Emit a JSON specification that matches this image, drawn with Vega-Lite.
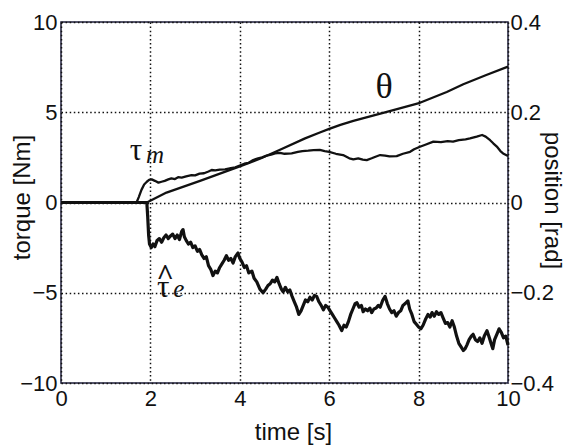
{
  "$schema": "https://vega.github.io/schema/vega-lite/v6.json",
  "width": 447,
  "height": 361,
  "autosize": {"type": "none"},
  "padding": {"left": 61, "top": 22, "right": 57, "bottom": 62},
  "background": "white",
  "config": {
    "view": {"stroke": "#1c1c3a", "strokeWidth": 1.5},
    "font": "Liberation Sans",
    "axis": {
      "labelFont": "Liberation Sans",
      "titleFont": "Liberation Sans",
      "labelColor": "#111",
      "titleColor": "#111",
      "labelFontSize": 22,
      "titleFontSize": 24,
      "titleFontWeight": "normal",
      "ticks": false,
      "domain": false,
      "labelFlush": false,
      "labelOverlap": false,
      "gridColor": "#111",
      "gridOpacity": 1,
      "gridWidth": 1.5,
      "gridDash": [1.5, 2.6]
    }
  },
  "datasets": {
    "te": [
      {"t": 0, "v": 0}, {"t": 1.92, "v": 0}, {"t": 1.94, "v": -0.8}, {"t": 1.96, "v": -1.8}, {"t": 1.98, "v": -2.3},
      {"t": 2.02, "v": -2.5}, {"t": 2.06, "v": -2.3}, {"t": 2.1, "v": -2.45}, {"t": 2.15, "v": -2.1}, {"t": 2.2, "v": -2.0},
      {"t": 2.25, "v": -2.2}, {"t": 2.3, "v": -1.95}, {"t": 2.35, "v": -1.8}, {"t": 2.4, "v": -2.0}, {"t": 2.45, "v": -1.85},
      {"t": 2.5, "v": -1.75}, {"t": 2.55, "v": -2.0}, {"t": 2.6, "v": -1.8}, {"t": 2.65, "v": -2.05}, {"t": 2.7, "v": -1.6},
      {"t": 2.73, "v": -1.5}, {"t": 2.76, "v": -1.9}, {"t": 2.8, "v": -2.1}, {"t": 2.85, "v": -2.3}, {"t": 2.9, "v": -2.2},
      {"t": 2.95, "v": -2.5}, {"t": 3.0, "v": -2.4}, {"t": 3.05, "v": -2.7}, {"t": 3.1, "v": -2.6}, {"t": 3.15, "v": -2.9},
      {"t": 3.2, "v": -3.1}, {"t": 3.25, "v": -3.0}, {"t": 3.3, "v": -3.5}, {"t": 3.35, "v": -3.7}, {"t": 3.4, "v": -4.05},
      {"t": 3.45, "v": -3.8}, {"t": 3.5, "v": -3.9}, {"t": 3.55, "v": -3.6}, {"t": 3.6, "v": -3.4}, {"t": 3.65, "v": -3.2},
      {"t": 3.7, "v": -2.95}, {"t": 3.75, "v": -3.2}, {"t": 3.8, "v": -3.1}, {"t": 3.85, "v": -3.35}, {"t": 3.9, "v": -3.0},
      {"t": 3.96, "v": -2.8}, {"t": 4.0, "v": -3.1}, {"t": 4.05, "v": -3.3}, {"t": 4.1, "v": -3.6}, {"t": 4.15, "v": -3.5},
      {"t": 4.2, "v": -3.9}, {"t": 4.27, "v": -3.8}, {"t": 4.32, "v": -4.2}, {"t": 4.38, "v": -4.4}, {"t": 4.45, "v": -4.8},
      {"t": 4.52, "v": -5.0}, {"t": 4.58, "v": -4.8}, {"t": 4.63, "v": -4.6}, {"t": 4.68, "v": -4.5}, {"t": 4.73, "v": -4.3},
      {"t": 4.78, "v": -4.4}, {"t": 4.83, "v": -4.15}, {"t": 4.88, "v": -4.5}, {"t": 4.93, "v": -4.8}, {"t": 4.97, "v": -4.95},
      {"t": 5.02, "v": -4.7}, {"t": 5.07, "v": -4.95}, {"t": 5.12, "v": -4.85}, {"t": 5.17, "v": -5.2}, {"t": 5.22, "v": -5.5},
      {"t": 5.27, "v": -5.8}, {"t": 5.32, "v": -6.2}, {"t": 5.37, "v": -6.0}, {"t": 5.42, "v": -5.7}, {"t": 5.47, "v": -5.4},
      {"t": 5.52, "v": -5.5}, {"t": 5.57, "v": -5.25}, {"t": 5.62, "v": -5.4}, {"t": 5.67, "v": -5.15}, {"t": 5.72, "v": -5.2},
      {"t": 5.77, "v": -5.5}, {"t": 5.82, "v": -5.7}, {"t": 5.87, "v": -5.95}, {"t": 5.92, "v": -5.7}, {"t": 5.97, "v": -5.8},
      {"t": 6.02, "v": -6.0}, {"t": 6.07, "v": -6.2}, {"t": 6.12, "v": -6.4}, {"t": 6.17, "v": -6.6}, {"t": 6.22, "v": -6.8},
      {"t": 6.28, "v": -7.1}, {"t": 6.33, "v": -6.8}, {"t": 6.38, "v": -6.9}, {"t": 6.43, "v": -6.6}, {"t": 6.48, "v": -6.2},
      {"t": 6.53, "v": -5.9}, {"t": 6.58, "v": -5.6}, {"t": 6.62, "v": -5.55}, {"t": 6.67, "v": -5.8}, {"t": 6.72, "v": -5.7},
      {"t": 6.76, "v": -6.05}, {"t": 6.81, "v": -5.9}, {"t": 6.86, "v": -6.0}, {"t": 6.91, "v": -5.85}, {"t": 6.95, "v": -6.1},
      {"t": 7.0, "v": -5.9}, {"t": 7.05, "v": -5.85}, {"t": 7.1, "v": -5.7}, {"t": 7.14, "v": -5.8}, {"t": 7.2, "v": -5.4},
      {"t": 7.25, "v": -5.2}, {"t": 7.3, "v": -5.6}, {"t": 7.35, "v": -5.9}, {"t": 7.4, "v": -6.1}, {"t": 7.45, "v": -6.0},
      {"t": 7.5, "v": -6.3}, {"t": 7.55, "v": -6.1}, {"t": 7.6, "v": -6.0}, {"t": 7.65, "v": -5.7}, {"t": 7.7, "v": -5.6},
      {"t": 7.76, "v": -5.45}, {"t": 7.8, "v": -5.9}, {"t": 7.85, "v": -6.2}, {"t": 7.9, "v": -6.6}, {"t": 7.95, "v": -6.75},
      {"t": 8.0, "v": -6.9}, {"t": 8.05, "v": -7.0}, {"t": 8.1, "v": -6.8}, {"t": 8.15, "v": -6.5}, {"t": 8.21, "v": -6.2},
      {"t": 8.26, "v": -6.35}, {"t": 8.3, "v": -6.1}, {"t": 8.35, "v": -6.3}, {"t": 8.4, "v": -6.05}, {"t": 8.45, "v": -6.2},
      {"t": 8.5, "v": -6.1}, {"t": 8.55, "v": -6.4}, {"t": 8.6, "v": -6.7}, {"t": 8.65, "v": -6.65}, {"t": 8.7, "v": -6.9},
      {"t": 8.75, "v": -6.55}, {"t": 8.8, "v": -6.9}, {"t": 8.85, "v": -7.4}, {"t": 8.9, "v": -7.8}, {"t": 8.95, "v": -8.0},
      {"t": 9.0, "v": -8.2}, {"t": 9.04, "v": -8.1}, {"t": 9.08, "v": -7.9}, {"t": 9.13, "v": -7.6}, {"t": 9.18, "v": -7.4},
      {"t": 9.22, "v": -7.3}, {"t": 9.27, "v": -7.6}, {"t": 9.32, "v": -7.7}, {"t": 9.37, "v": -7.5}, {"t": 9.42, "v": -7.8},
      {"t": 9.47, "v": -7.4}, {"t": 9.53, "v": -7.1}, {"t": 9.57, "v": -7.4}, {"t": 9.62, "v": -7.8}, {"t": 9.66, "v": -8.1},
      {"t": 9.7, "v": -7.6}, {"t": 9.75, "v": -7.3}, {"t": 9.8, "v": -7.0}, {"t": 9.85, "v": -7.2}, {"t": 9.9, "v": -7.5},
      {"t": 9.95, "v": -7.4}, {"t": 10.0, "v": -7.9}
    ],
    "tm": [
      {"t": 0, "v": 0}, {"t": 1.69, "v": 0}, {"t": 1.74, "v": 0.3}, {"t": 1.8, "v": 0.7}, {"t": 1.86, "v": 1.0},
      {"t": 1.92, "v": 1.15}, {"t": 1.97, "v": 1.25}, {"t": 2.03, "v": 1.28}, {"t": 2.1, "v": 1.2}, {"t": 2.18, "v": 1.1},
      {"t": 2.25, "v": 1.15}, {"t": 2.32, "v": 1.2}, {"t": 2.4, "v": 1.28}, {"t": 2.47, "v": 1.34}, {"t": 2.55, "v": 1.3},
      {"t": 2.62, "v": 1.4}, {"t": 2.7, "v": 1.38}, {"t": 2.8, "v": 1.45}, {"t": 2.92, "v": 1.52}, {"t": 3.0, "v": 1.5},
      {"t": 3.1, "v": 1.6}, {"t": 3.2, "v": 1.62}, {"t": 3.3, "v": 1.72}, {"t": 3.37, "v": 1.8}, {"t": 3.45, "v": 1.78},
      {"t": 3.55, "v": 1.82}, {"t": 3.67, "v": 1.83}, {"t": 3.8, "v": 1.9}, {"t": 3.9, "v": 1.95}, {"t": 4.0, "v": 2.05},
      {"t": 4.1, "v": 2.15}, {"t": 4.2, "v": 2.2}, {"t": 4.3, "v": 2.35}, {"t": 4.41, "v": 2.45}, {"t": 4.5, "v": 2.5},
      {"t": 4.6, "v": 2.6}, {"t": 4.7, "v": 2.65}, {"t": 4.79, "v": 2.72}, {"t": 4.9, "v": 2.75}, {"t": 5.0, "v": 2.7},
      {"t": 5.16, "v": 2.72}, {"t": 5.3, "v": 2.8}, {"t": 5.4, "v": 2.85}, {"t": 5.53, "v": 2.87}, {"t": 5.65, "v": 2.9},
      {"t": 5.79, "v": 2.91}, {"t": 5.9, "v": 2.85}, {"t": 6.0, "v": 2.81}, {"t": 6.15, "v": 2.7}, {"t": 6.31, "v": 2.63},
      {"t": 6.45, "v": 2.45}, {"t": 6.54, "v": 2.39}, {"t": 6.65, "v": 2.45}, {"t": 6.75, "v": 2.38}, {"t": 6.84, "v": 2.35},
      {"t": 6.95, "v": 2.45}, {"t": 7.05, "v": 2.55}, {"t": 7.14, "v": 2.63}, {"t": 7.25, "v": 2.6}, {"t": 7.35, "v": 2.55},
      {"t": 7.51, "v": 2.57}, {"t": 7.65, "v": 2.7}, {"t": 7.81, "v": 2.81}, {"t": 7.9, "v": 2.95}, {"t": 8.03, "v": 3.09},
      {"t": 8.15, "v": 3.2}, {"t": 8.33, "v": 3.37}, {"t": 8.5, "v": 3.35}, {"t": 8.65, "v": 3.4}, {"t": 8.77, "v": 3.37},
      {"t": 8.9, "v": 3.45}, {"t": 9.05, "v": 3.5}, {"t": 9.15, "v": 3.55}, {"t": 9.3, "v": 3.65}, {"t": 9.42, "v": 3.74},
      {"t": 9.5, "v": 3.65}, {"t": 9.6, "v": 3.45}, {"t": 9.67, "v": 3.28}, {"t": 9.75, "v": 3.1}, {"t": 9.83, "v": 2.85},
      {"t": 9.89, "v": 2.72}, {"t": 10.0, "v": 2.58}
    ],
    "th": [
      {"t": 0, "p": 0}, {"t": 1.92, "p": 0}, {"t": 2.36, "p": 0.022}, {"t": 3.11, "p": 0.048}, {"t": 4.0, "p": 0.08},
      {"t": 4.45, "p": 0.097}, {"t": 4.9, "p": 0.117}, {"t": 5.46, "p": 0.142}, {"t": 5.79, "p": 0.155}, {"t": 6.0, "p": 0.163},
      {"t": 6.25, "p": 0.172}, {"t": 6.54, "p": 0.181}, {"t": 7.29, "p": 0.201}, {"t": 8.03, "p": 0.221}, {"t": 8.63, "p": 0.245},
      {"t": 9.0, "p": 0.262}, {"t": 9.5, "p": 0.282}, {"t": 10.0, "p": 0.301}
    ]
  },
  "layer": [
    {
      "layer": [
        {
          "data": {"name": "te"},
          "mark": {"type": "line", "color": "#111", "strokeWidth": 3.2, "strokeJoin": "round"},
          "encoding": {
            "x": {"field": "t", "type": "quantitative", "scale": {"domain": [0, 10], "nice": false},
              "axis": {"values": [0, 2, 4, 6, 8, 10], "title": "time [s]", "grid": true, "labelPadding": 5,
                "titleX": 232, "titleY": 49, "titleBaseline": "middle"}},
            "y": {"field": "v", "type": "quantitative", "scale": {"domain": [-10, 10], "nice": false},
              "axis": {"values": [-10, -5, 0, 5, 10], "title": "torque [Nm]", "grid": true, "labelPadding": 4,
                "titleX": -39, "titleY": 175, "titleBaseline": "middle", "titleAngle": -90}}
          }
        },
        {
          "data": {"name": "tm"},
          "mark": {"type": "line", "color": "#111", "strokeWidth": 2.3, "strokeJoin": "round"},
          "encoding": {
            "x": {"field": "t", "type": "quantitative"},
            "y": {"field": "v", "type": "quantitative"}
          }
        },
        {
          "data": {"values": [{"t": 1.54, "v": 2.35, "label": "τ"}, {"t": 2.15, "v": -5.24, "label": "τ"}]},
          "mark": {"type": "text", "font": "Liberation Serif", "fontSize": 31, "align": "left", "baseline": "alphabetic", "color": "#111"},
          "encoding": {
            "x": {"field": "t", "type": "quantitative"},
            "y": {"field": "v", "type": "quantitative"},
            "text": {"field": "label"}
          }
        },
        {
          "data": {"values": [{"t": 1.9, "v": 2.19, "label": "m"}, {"t": 2.51, "v": -5.24, "label": "e"}]},
          "mark": {"type": "text", "font": "Liberation Serif", "fontStyle": "italic", "fontSize": 25, "align": "left", "baseline": "alphabetic", "color": "#111"},
          "encoding": {
            "x": {"field": "t", "type": "quantitative"},
            "y": {"field": "v", "type": "quantitative"},
            "text": {"field": "label"}
          }
        },
        {
          "data": {"values": [{"t": 2.33, "v": -4.57, "label": "^"}]},
          "mark": {"type": "text", "font": "Liberation Serif", "fontSize": 30, "fontWeight": "bold", "align": "center", "baseline": "alphabetic", "color": "#111"},
          "encoding": {
            "x": {"field": "t", "type": "quantitative"},
            "y": {"field": "v", "type": "quantitative"},
            "text": {"field": "label"}
          }
        },
        {
          "data": {"values": [{"t": 7.23, "v": 5.79, "label": "θ"}]},
          "mark": {"type": "text", "font": "Liberation Serif", "fontSize": 36, "align": "center", "baseline": "alphabetic", "color": "#111"},
          "encoding": {
            "x": {"field": "t", "type": "quantitative"},
            "y": {"field": "v", "type": "quantitative"},
            "text": {"field": "label"}
          }
        }
      ]
    },
    {
      "data": {"name": "th"},
      "mark": {"type": "line", "color": "#111", "strokeWidth": 2.3, "strokeJoin": "round"},
      "encoding": {
        "x": {"field": "t", "type": "quantitative"},
        "y": {"field": "p", "type": "quantitative", "scale": {"domain": [-0.4, 0.4], "nice": false},
          "axis": {"orient": "right", "values": [-0.4, -0.2, 0, 0.2, 0.4], "format": "~g", "title": "position [rad]", "grid": false,
            "labelPadding": 2, "titleX": 43, "titleY": 178, "titleBaseline": "middle", "titleAngle": 90}}
      }
    }
  ],
  "resolve": {"scale": {"y": "independent"}}
}
